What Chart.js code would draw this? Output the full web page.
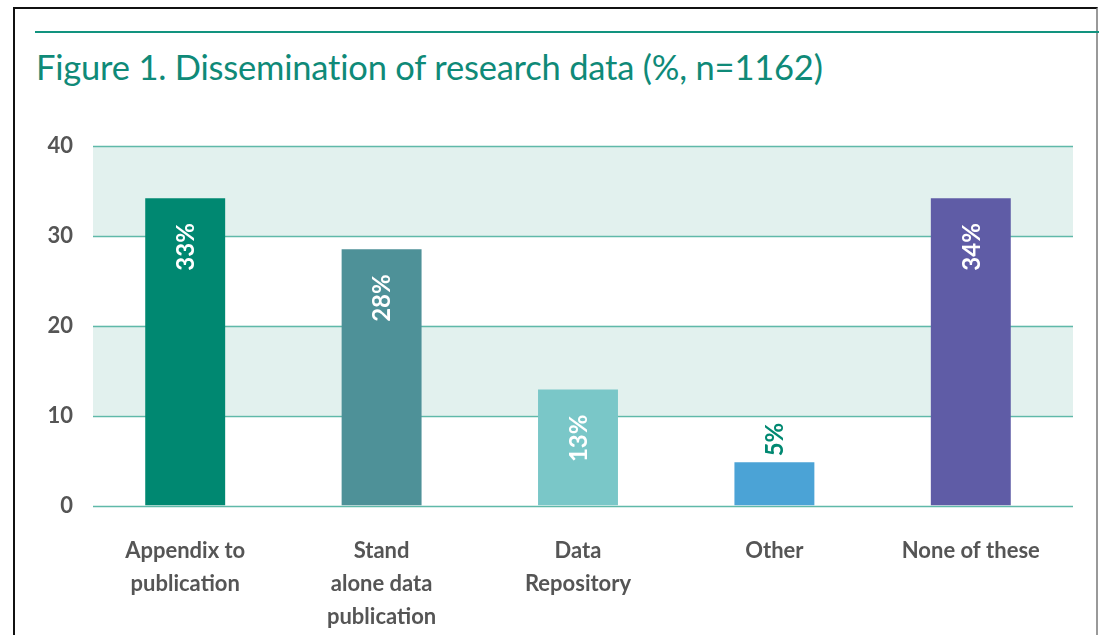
<!DOCTYPE html>
<html>
<head>
<meta charset="utf-8">
<script src="https://cdn.jsdelivr.net/npm/chart.js@4.4.1/dist/chart.umd.min.js"></script>
<style>
    body { margin: 0; background: #fff; }
    #wrap { position: relative; width: 1099px; height: 635px; overflow: hidden; }
    #frame {
        position: absolute; left: 13px; top: 7px; width: 1081px; height: 700px;
        border-top: 2px solid #111; border-left: 2px solid #111; border-right: 2px solid #999;
    }
    #rule { position: absolute; left: 35px; top: 31px; width: 1070px; height: 2px; background: #12937f; }
    #title {
        position: absolute; left: 36px; top: 46px; white-space: nowrap;
        font-family: Lato, sans-serif; font-size: 34.5px; color: #0f8a78;
        font-variant-ligatures: none; letter-spacing: -0.2px;
    }
    canvas { position: absolute; left: 0; top: 0; }
</style>
</head>
<body>
<div id="wrap">
    <div id="frame"></div>
    <div id="rule"></div>
    <div id="title">Figure 1. Dissemination of research data (%, n=1162)</div>
    <canvas id="chart" width="1099" height="635"></canvas>
</div>
<script>
// категории и значения
const categories = [
    ["Appendix to", "publication"],
    ["Stand", "alone data", "publication"],
    ["Data", "Repository"],
    ["Other"],
    ["None of these"],
];
const values = [34.2, 28.5, 12.9, 4.8, 34.2];
const valueLabels = ["33%", "28%", "13%", "5%", "34%"];
const barColors = ["#008871", "#4e9198", "#7ac7c8", "#4ba3d6", "#5f5ca6"];
const yTicks = [0, 10, 20, 30, 40];

const gridColor = "#5fb9a9";
const bandColor = "#e2f1ee";

// полосы и линии сетки
const bandsPlugin = {
    id: "bands",
    beforeDatasetsDraw(chart) {
        const ctx = chart.ctx;
        const y = chart.scales.y;
        const left = 93, right = 1073;
        ctx.save();
        ctx.fillStyle = bandColor;
        for (let i = 0; i < yTicks.length - 1; i++) {
            if (i % 2 === 1) {
                const top = y.getPixelForValue(yTicks[i + 1]);
                const bottom = y.getPixelForValue(yTicks[i]);
                ctx.fillRect(left, top, right - left, bottom - top);
            }
        }
        ctx.strokeStyle = gridColor;
        ctx.lineWidth = 1.5;
        for (let t of yTicks) {
            const py = Math.round(y.getPixelForValue(t)) + 0.5;
            ctx.beginPath();
            ctx.moveTo(left, py);
            ctx.lineTo(right, py);
            ctx.stroke();
        }
        ctx.restore();
    },
};

// подписи значений
const valueLabelPlugin = {
    id: "valueLabels",
    afterDatasetsDraw(chart) {
        const ctx = chart.ctx;
        const meta = chart.getDatasetMeta(0);
        ctx.save();
        ctx.font = "bold 24px Lato, sans-serif";
        ctx.textBaseline = "middle";
        meta.data.forEach((bar, i) => {
            const inside = values[i] > 10;
            ctx.save();
            if (inside) {
                ctx.translate(bar.x, bar.y + 25);
                ctx.rotate(-Math.PI / 2);
                ctx.textAlign = "right";
                ctx.fillStyle = "#ffffff";
            } else {
                ctx.translate(bar.x, bar.y - 6);
                ctx.rotate(-Math.PI / 2);
                ctx.textAlign = "left";
                ctx.fillStyle = "#008871";
            }
            ctx.fillText(valueLabels[i], 0, 1);
            ctx.restore();
        });
        ctx.restore();
    },
};

new Chart(document.getElementById("chart"), {
    type: "bar",
    data: {
        labels: categories,
        datasets: [
            {
                data: values,
                backgroundColor: barColors,
                barPercentage: 0.814,
                categoryPercentage: 0.5,
            },
        ],
    },
    options: {
        responsive: false,
        animation: false,
        layout: { padding: { top: 146, right: 30, left: 0, bottom: 0 } },
        plugins: {
            legend: { display: false },
            tooltip: { enabled: false },
        },
        scales: {
            x: {
                grid: { display: false, drawTicks: false },
                border: { display: false },
                ticks: {
                    color: "#555555",
                    font: { family: "Lato, sans-serif", size: 22, weight: "bold", lineHeight: 1.5 },
                    padding: 29,
                    maxRotation: 0,
                    autoSkip: false,
                },
                afterFit(scale) { scale.height = 129.5; },
            },
            y: {
                min: 0,
                max: 40,
                grid: { display: false, drawTicks: false },
                border: { display: false },
                ticks: {
                    stepSize: 10,
                    color: "#555555",
                    font: { family: "Lato, sans-serif", size: 22, weight: "bold" },
                    padding: 14,
                },
                afterFit(scale) { scale.width = 87; },
            },
        },
    },
    plugins: [bandsPlugin, valueLabelPlugin],
});
</script>
</body>
</html>
